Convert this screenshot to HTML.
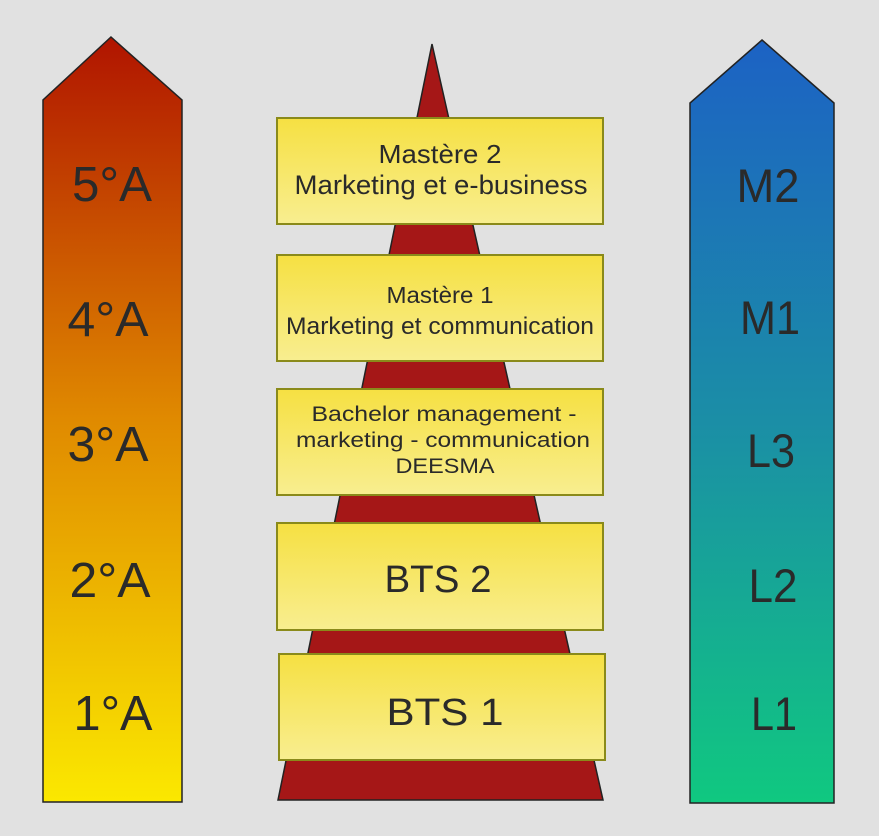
<!DOCTYPE html>
<html><head><meta charset="utf-8"><style>
body{margin:0;background:#e1e1e1;}
svg text{font-family:"Liberation Sans",sans-serif;fill:#2a2a2a;text-anchor:middle}
</style></head><body>
<svg width="879" height="831" viewBox="0 0 879 831" xmlns="http://www.w3.org/2000/svg">
<defs>
<linearGradient id="lg" x1="0" y1="0" x2="0" y2="1">
<stop offset="0" stop-color="#b01400"/><stop offset="0.5" stop-color="#e08a00"/><stop offset="1" stop-color="#fbe800"/>
</linearGradient>
<linearGradient id="rg" x1="0" y1="0" x2="0" y2="1">
<stop offset="0" stop-color="#1c62c4"/><stop offset="0.5" stop-color="#1b8ea6"/><stop offset="1" stop-color="#10c880"/>
</linearGradient>
<linearGradient id="yg" x1="0" y1="0" x2="0" y2="1">
<stop offset="0" stop-color="#f6e042"/><stop offset="1" stop-color="#f8ee90"/>
</linearGradient>
</defs>
<rect width="879" height="831" fill="#e1e1e1"/>
<polygon points="111,37 182,100 182,802 43,802 43,100" fill="url(#lg)" stroke="#222" stroke-width="1.5"/>
<polygon points="762,40 834,103 834,803 690,803 690,103" fill="url(#rg)" stroke="#222" stroke-width="1.5"/>
<polygon points="432,44 603,800 278,800" fill="#a51717" stroke="#222" stroke-width="1.5"/>
<g fill="url(#yg)" stroke="#8a8a1a" stroke-width="2">
<rect x="277" y="118" width="326" height="106"/>
<rect x="277" y="255" width="326" height="106"/>
<rect x="277" y="389" width="326" height="106"/>
<rect x="277" y="523" width="326" height="107"/>
<rect x="279" y="654" width="326" height="106"/>
</g>
<g font-size="49">
<text x="112" y="201" textLength="80" lengthAdjust="spacingAndGlyphs">5°A</text>
<text x="108" y="336" textLength="81" lengthAdjust="spacingAndGlyphs">4°A</text>
<text x="108" y="461" textLength="81" lengthAdjust="spacingAndGlyphs">3°A</text>
<text x="110" y="597" textLength="81" lengthAdjust="spacingAndGlyphs">2°A</text>
<text x="113" y="730" textLength="79" lengthAdjust="spacingAndGlyphs">1°A</text>
</g>
<g font-size="47">
<text x="768" y="202" textLength="63" lengthAdjust="spacingAndGlyphs">M2</text>
<text x="770" y="334" textLength="60" lengthAdjust="spacingAndGlyphs">M1</text>
<text x="771" y="467" textLength="48" lengthAdjust="spacingAndGlyphs">L3</text>
<text x="773" y="602" textLength="49" lengthAdjust="spacingAndGlyphs">L2</text>
<text x="774" y="730" textLength="46" lengthAdjust="spacingAndGlyphs">L1</text>
</g>
<text x="440" y="163" font-size="26" textLength="123" lengthAdjust="spacingAndGlyphs">Mastère 2</text>
<text x="441" y="194" font-size="27" textLength="293" lengthAdjust="spacingAndGlyphs">Marketing et e-business</text>
<text x="440" y="303" font-size="23" textLength="107" lengthAdjust="spacingAndGlyphs">Mastère 1</text>
<text x="440" y="334" font-size="24" textLength="308" lengthAdjust="spacingAndGlyphs">Marketing et communication</text>
<text x="444" y="421" font-size="21" textLength="265" lengthAdjust="spacingAndGlyphs">Bachelor management -</text>
<text x="443" y="447" font-size="21" textLength="294" lengthAdjust="spacingAndGlyphs">marketing - communication</text>
<text x="445" y="473" font-size="21" textLength="99" lengthAdjust="spacingAndGlyphs">DEESMA</text>
<text x="438" y="592" font-size="38" textLength="107" lengthAdjust="spacingAndGlyphs">BTS 2</text>
<text x="445" y="725" font-size="38" textLength="117" lengthAdjust="spacingAndGlyphs">BTS 1</text>
</svg>
</body></html>
